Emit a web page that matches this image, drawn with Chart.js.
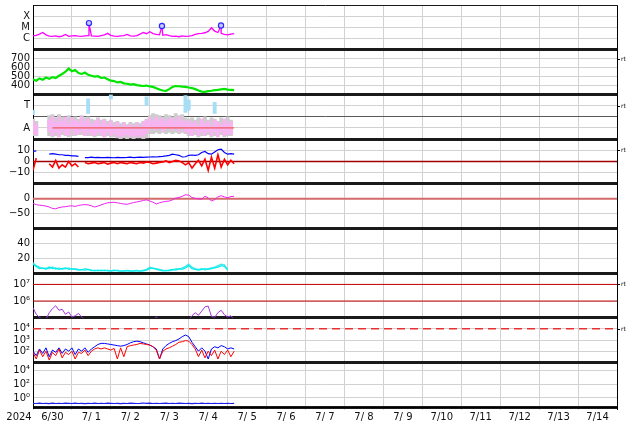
<!DOCTYPE html>
<html>
<head>
<meta charset="utf-8">
<script src="https://cdn.jsdelivr.net/npm/chart.js@4.4.1/dist/chart.umd.min.js"></script>
<style>
  html, body { margin: 0; padding: 0; background: #fff; }
  #wrap { position: relative; width: 634px; height: 424px; }
</style>
</head>
<body>
<div id="wrap"><canvas id="mycanvas"></canvas></div>
<script>
// time axis: hours since 2024-06-30 00:00
var yearLabel = '2024';
var dayCentres = [12, 36, 60, 84, 108, 132, 156, 180, 204, 228, 252, 276, 300, 324, 348];
var dayLabels = ['6/30', '7/ 1', '7/ 2', '7/ 3', '7/ 4', '7/ 5', '7/ 6', '7/ 7', '7/ 8', '7/ 9', '7/10', '7/11', '7/12', '7/13', '7/14'];
var fullSpan = [0, 360];

var hrs = [0,2,4,6,8,10,12,14,16,18,20,22,24,26,28,30,32,34,36,38,40,42,44,46,48,50,52,54,56,58,60,62,64,66,68,70,72,74,76,78,80,82,84,86,88,90,92,94,96,98,100,102,104,106,108,110,112,114,116,118,120,122,124];

// panel 1: x-ray flux (uW/m2)
var xrayHrs = [0,2,4,6,8,10,12,14,16,18,20,22,24,26,28,30,32,34,34.5,36,38,40,42,44,46,48,50,52,54,56,58,60,62,64,66,68,70,72,74,76,78,79.5,80,82,84,86,88,90,92,94,96,98,100,102,104,106,108,110,112,114,115.9,116,118,120,122,124];
var xrayFlux = [1.8,2.0,2.6,3.6,2.2,1.7,1.6,1.8,1.5,1.7,2.4,1.6,1.8,1.9,1.7,1.6,1.8,1.9,25,
  1.8,1.7,1.6,1.9,2.2,3.0,2.0,1.7,1.6,1.8,1.9,2.4,1.8,1.7,1.9,2.6,3.6,2.8,4.2,2.9,2.4,2.2,14,
  2.0,2.3,1.9,1.6,1.7,1.5,1.8,1.6,1.7,1.9,2.4,2.8,3.0,3.4,4.5,9.5,4.8,3.6,15,
  3.0,2.4,2.2,2.6,2.9];
var flareHrs = [34.5, 79.5, 115.9];
var flarePeak = [25, 14, 15];
var xrayTicks = [1, 10, 100];
var xrayLabels = ['C', 'M', 'X'];

// panel 2: solar wind speed
var speed = [470,455,480,465,490,475,495,485,510,530,555,590,560,575,540,530,545,520,510,500,
  505,485,490,470,455,450,435,440,425,420,410,415,405,400,395,400,390,385,370,355,
  345,340,360,385,395,392,388,385,378,372,360,345,332,330,338,342,348,352,358,362,355,352,348];
var speedTicks = [400, 500, 600, 700];
var speedLabels = ['400', '500', '600', '700'];

// panel 3: activity band
var pinkLo = [0.5,0.4,null,null,null,0.7,0.3,0.6,0.2,0.7,0.4,0.3,0.8,0.4,0.5,0.7,0.3,0.6,0.4,0.3,
  0.6,0.4,0.2,0.6,0.3,0.5,0.2,0.3,0.2,0.4,0.2,0.3,0.2,0.35,0.2,0.5,0.9,1.1,0.8,1.0,
  0.7,0.9,1.1,0.8,1.0,0.7,1.0,0.6,0.5,0.3,0.7,0.3,0.6,0.4,0.7,0.3,0.6,0.2,0.7,0.3,0.5,0.4,null];
var pinkHi = [1.6,1.3,null,null,null,1.7,2.0,1.5,1.9,1.6,2.0,1.4,1.9,1.7,1.5,2.0,1.6,1.8,1.3,1.6,
  1.8,1.4,1.7,1.3,1.6,1.2,1.5,1.0,1.4,1.2,1.3,1.0,1.4,1.1,1.5,1.7,1.9,1.6,2.0,1.7,
  1.9,1.6,1.8,1.9,1.6,2.0,1.7,1.5,1.7,1.4,1.6,1.3,1.8,1.4,1.6,1.2,1.7,1.5,1.3,1.8,1.4,1.6,null];
var greyLo = [0.3,0.3,null,null,null,0.3,0.2,0.3,0.3,0.4,0.3,0.2,0.3,0.3,0.4,0.4,0.3,0.3,0.3,0.2,
  0.3,0.3,0.2,0.3,0.2,0.2,0.1,0.05,0.1,0.05,0.1,0.05,0.1,0.1,0.05,0.1,0.5,0.5,0.6,0.5,
  0.6,0.5,0.6,0.5,0.6,0.5,0.6,0.5,0.3,0.3,0.4,0.2,0.3,0.3,0.4,0.2,0.3,0.3,0.4,0.2,0.3,0.3,null];
var greyHi = [1.8,1.6,null,null,null,2.1,2.2,1.9,2.2,2.0,1.9,2.1,1.9,2.0,1.8,2.1,1.9,2.0,1.8,1.7,
  1.9,1.7,1.8,1.6,1.7,1.5,1.6,1.4,1.5,1.3,1.5,1.4,1.5,1.4,1.6,1.8,2.1,2.3,2.2,2.1,
  2.0,2.2,2.1,2.0,2.3,2.1,2.2,1.9,1.8,1.9,1.7,1.9,1.8,2.0,1.7,1.9,1.8,1.6,1.9,1.8,2.0,1.7,null];
var tHrs = [0, 34, 48, 70, 94, 96, 112];
var tLo = [2.2, 2.3, 3.6, 3.0, 2.4, 2.6, 2.3];
var tHi = [2.6, 3.6, 4.0, 3.8, 3.9, 3.5, 3.3];
var aLineHrs = [12, 124];
var aLevel = [1, 1];
var bandTicks = [1, 2, 3];
var bandLabels = ['A', '', 'T'];

// panel 4: magnetic field
var bt = [9,9.5,null,null,null,6.5,7,6.5,6,6,5.5,5.5,5,5,4.5,null,3.5,3.5,3.8,3.5,
  3.6,3.4,3.5,3.7,3.5,3.3,3.6,3.4,3.5,3.6,3.8,3.5,3.7,3.9,3.6,3.8,4,4.2,4,4.4,
  4.6,5,5.5,6.5,6,5.5,4,4.2,5.5,5.8,5.5,6,8,9,7,6.5,8.5,10.5,11,8,6.5,7,6.5];
var bz = [-8,3,null,null,null,-2,-5,1,-6,-3,-5,0,-4,-2,-5,null,-1,-2,-1.5,-1,
  -2,-1.5,-1,-2.5,-1.5,-1,-2,-1,-1.5,-2,-1,-1.5,-2,-1,-1.5,-0.5,-1,-2,-1.5,-1,
  -0.5,0.5,-1,0,1,0.5,-1,-3,-1,-6,-2,1,-4,2,-8,4,-6,6,-5,2,-3,1,-2];
var fieldTicks = [-10, 0, 10];
var fieldLabels = ['\u221210', '0', '10'];

// panel 5: Dst
var dst = [-16,-20,-22,-23,-25,-28,-33,-34,-30,-28,-27,-25,-24,-26,-23,-21,-20,-21,-24,-28,
  -25,-21,-17,-14,-13,-12,-14,-16,-18,-19,-16,-13,-11,-9,-6,-4,-8,-12,-18,-14,
  -11,-9,-8,-4,2,4,8,13,12,4,1,-1,-2,8,3,-8,-3,6,10,6,3,7,8];
var dstTicks = [-50, 0];
var dstLabels = ['\u221250', '0'];

// panel 6: density
var dens1 = [12,9,6,7,5,8,6,7,5,6,7,5,6,5,4,5,4,5,4,3,
  4,3,4,3,3,4,3,2.5,3,3,2.5,3,3,2.5,3,4,6,7,5,4,
  3,3,4,5,4,6,5,7,10,6,5,4,5,6,5,6,7,8,10,9,4,null,null];
var dens2 = [14,10,8,6,7,6,8,5,7,5,6,7,5,6,5,4,6,5,3,4,
  3,4,3,4,2.5,3,4,3,2.5,3.5,3,2.5,3.5,3,4,5,8,6,6,5,
  4,3.5,3,4,6,5,7,9,12,8,6,5,6,4,6,7,8,10,12,11,5,null,null];
var densTicks = [20, 40];
var densLabels = ['20', '40'];

// panel 7: electron flux
var electron = [4.0e5,1.6e5,1.05e5,8e4,8e4,2.0e5,3.5e5,5.2e5,2.8e5,3.2e5,1.6e5,2.2e5,1.1e5,1.3e5,1.8e5,1.1e5,8e4,8e4,8e4,8e4,
  8e4,8e4,8e4,8e4,8e4,8e4,8e4,8e4,8e4,8e4,8e4,8e4,8e4,8e4,8e4,8e4,8e4,8e4,1.1e5,8e4,
  8e4,8e4,8e4,8e4,8e4,8e4,8e4,8e4,8e4,1.3e5,2.0e5,1.4e5,2.5e5,4.5e5,5.0e5,1.2e5,1.05e5,2.0e5,2.8e5,1.5e5,1.1e5,1.3e5,8e4];
var electronTicks = [1e6, 1e7];
var electronLabels = ['10\u2076', '10\u2077'];
var electronAlerts = [1e6, 1e7];

// panel 8: proton flux
var protonRed = [79,20,126,32,100,16,79,40,158,25,79,50,100,20,79,63,126,40,100,158,
  200,158,200,158,126,178,20,200,32,251,316,355,398,501,447,398,355,251,126,20,
  100,158,200,282,398,631,708,891,794,398,158,32,126,25,100,40,126,20,100,50,126,32,100];
var protonBlue = [100,40,158,63,200,32,126,79,200,63,158,100,200,50,158,100,200,79,158,251,
  398,501,501,447,398,355,316,282,316,398,562,708,794,708,562,447,355,251,158,20,
  158,316,501,708,891,1259,1995,2818,1995,631,251,100,200,100,20,158,251,200,316,251,158,200,158];
var protonTicks = [100, 1000, 10000];
var protonLabels = ['10\u00b2', '10\u00b3', '10\u2074'];
var protonAlert = 10000;

// panel 9: high energy flux
var highEnergy = [0.17,0.16,0.18,0.16,0.17,0.15,0.18,0.16,0.17,0.16,0.18,0.17,0.16,0.18,0.16,0.17,0.15,0.17,0.16,0.18,
  0.16,0.17,0.16,0.18,0.17,0.16,0.17,0.15,0.17,0.16,0.18,0.17,0.16,0.17,0.19,0.17,0.18,0.16,0.17,0.16,
  0.17,0.18,0.16,0.17,0.16,0.18,0.17,0.16,0.17,0.15,0.17,0.16,0.18,0.16,0.17,0.16,0.17,0.16,0.17,0.16,0.17,0.16,0.17];
var highTicks = [1, 100, 10000];
var highLabels = ['10\u2070', '10\u00b2', '10\u2074'];

// little "rt" marks on the right edge
var rtAxes = ['y2', 'y3', 'y4', 'y7', 'y8'];
var rtValues = [700, 3, 10, 1e7, 1e4];

function pts(xs, ys) {
  return xs.map(function(x, i) { return {x: x, y: ys[i]}; });
}
function spans(xs, lo, hi) {
  var out = [];
  xs.forEach(function(x, i) {
    if (lo[i] !== null) out.push({x: x, y: [lo[i], hi[i]]});
  });
  return out;
}
function flat(v) { return [v, v]; }

function panelAxis(order, type, min, max, tickVals, tickLabels, darkVals) {
  var last = tickVals.length + 1;
  return {
    type: type, min: min, max: max,
    stack: 'panels', stackWeight: 1, weight: 10 - order,
    afterBuildTicks: function(scale) {
      scale.ticks = [min].concat(tickVals, [max]).map(function(v) { return {value: v}; });
    },
    afterFit: function(scale) {
      scale.width = 33;
      scale.paddingTop = 0;
      scale.paddingBottom = 0;
    },
    border: {color: '#000', width: 1},
    grid: {
      drawTicks: false,
      color: function(c) {
        if (c.index === 0 || c.index === last) return '#1a1a1a';
        if (darkVals && c.tick && darkVals.indexOf(c.tick.value) >= 0) return '#5a5a5a';
        return '#d2d2d2';
      },
      lineWidth: function(c) {
        if (c.index === 0) return 3;
        if (c.index === last) return order === 1 ? 1 : 3;
        return 1;
      }
    },
    ticks: {
      autoSkip: false, padding: 3, color: '#111', font: {size: 10},
      callback: function(v, i) { return (i === 0 || i === last) ? '' : tickLabels[i - 1]; }
    }
  };
}

var extraLabels = {
  id: 'extraLabels',
  afterDraw: function(chart) {
    var ctx = chart.ctx, area = chart.chartArea;
    ctx.save();
    ctx.fillStyle = '#111';
    ctx.font = '10px "DejaVu Sans"';
    ctx.textAlign = 'center';
    ctx.textBaseline = 'middle';
    ctx.fillText(yearLabel, 19, chart.scales.x.top + 10);
    ctx.font = '6px "DejaVu Sans"';
    ctx.textAlign = 'left';
    ctx.strokeStyle = '#000';
    ctx.lineWidth = 1;
    rtAxes.forEach(function(id, k) {
      var y = Math.round(chart.scales[id].getPixelForValue(rtValues[k])) + 0.5;
      ctx.beginPath();
      ctx.moveTo(area.right, y);
      ctx.lineTo(area.right + 3, y);
      ctx.stroke();
      ctx.fillText('rt', area.right + 4, y);
    });
    ctx.restore();
  }
};

Chart.defaults.font.family = '"DejaVu Sans", sans-serif';
Chart.defaults.font.size = 10;
Chart.defaults.color = '#111';
Chart.defaults.elements.point.radius = 0;
Chart.defaults.elements.line.tension = 0;

var ctx = document.getElementById('mycanvas');
var panelChart = new Chart(ctx, {
  type: 'line',
  data: {
    datasets: [
      // panel 1
      {label: 'flares', data: pts(flareHrs, flarePeak), yAxisID: 'y1', showLine: false,
        pointRadius: 2.6, pointBorderWidth: 1.2, pointBorderColor: '#2a2aff', pointBackgroundColor: '#c8c8ff'},
      {label: 'xray', data: pts(xrayHrs, xrayFlux), yAxisID: 'y1', borderColor: '#ff00ff', borderWidth: 1.3},
      // panel 2
      {label: 'speed', data: pts(hrs, speed), yAxisID: 'y2', borderColor: '#00e600', borderWidth: 2.2},
      // panel 3
      {label: 'A', data: pts(aLineHrs, aLevel), yAxisID: 'y3', borderColor: '#f25a5a', borderWidth: 1.2},
      {type: 'bar', label: 'T', data: spans(tHrs, tLo, tHi), yAxisID: 'y3', backgroundColor: '#a6def6',
        grouped: false, barPercentage: 1, categoryPercentage: 1},
      {type: 'bar', label: 'pink', data: spans(hrs, pinkLo, pinkHi), yAxisID: 'y3', backgroundColor: '#f6b4f0',
        grouped: false, barPercentage: 1, categoryPercentage: 1},
      {type: 'bar', label: 'grey', data: spans(hrs, greyLo, greyHi), yAxisID: 'y3', backgroundColor: '#cdcdcd',
        grouped: false, barPercentage: 1, categoryPercentage: 1},
      // panel 4
      {label: 'Bz', data: pts(hrs, bz), yAxisID: 'y4', borderColor: '#ff0000', borderWidth: 1.6},
      {label: 'Bt', data: pts(hrs, bt), yAxisID: 'y4', borderColor: '#0000ff', borderWidth: 1.2},
      {label: 'zero4', data: pts(fullSpan, flat(0)), yAxisID: 'y4', borderColor: '#a00000', borderWidth: 1.5},
      // panel 5
      {label: 'dst', data: pts(hrs, dst), yAxisID: 'y5', borderColor: '#ee22ee', borderWidth: 1},
      {label: 'zero5', data: pts(fullSpan, flat(0)), yAxisID: 'y5', borderColor: '#d46a6a', borderWidth: 2},
      // panel 6
      {label: 'dens1', data: pts(hrs, dens1), yAxisID: 'y6', borderColor: '#00eeee', borderWidth: 1.3},
      {label: 'dens2', data: pts(hrs, dens2), yAxisID: 'y6', borderColor: '#4fe6e6', borderWidth: 1.3},
      // panel 7
      {label: 'electron', data: pts(hrs, electron), yAxisID: 'y7', borderColor: '#a535e0', borderWidth: 1},
      {label: 'e6', data: pts(fullSpan, flat(electronAlerts[0])), yAxisID: 'y7', borderColor: '#c40000', borderWidth: 1},
      {label: 'e7', data: pts(fullSpan, flat(electronAlerts[1])), yAxisID: 'y7', borderColor: '#c40000', borderWidth: 1},
      // panel 8
      {label: 'pRed', data: pts(hrs, protonRed), yAxisID: 'y8', borderColor: '#ff0000', borderWidth: 1},
      {label: 'pBlue', data: pts(hrs, protonBlue), yAxisID: 'y8', borderColor: '#0000ff', borderWidth: 1},
      {label: 'pAlert', data: pts(fullSpan, flat(protonAlert)), yAxisID: 'y8', borderColor: '#e83232',
        borderWidth: 1.5, borderDash: [8, 5]},
      // panel 9
      {label: 'high', data: pts(hrs, highEnergy), yAxisID: 'y9', borderColor: '#2020ee', borderWidth: 1.2}
    ]
  },
  options: {
    responsive: true,
    maintainAspectRatio: false,
    animation: false,
    events: [],
    layout: {padding: {top: 2, right: 17, bottom: 0, left: 0}},
    plugins: {legend: {display: false}, tooltip: {enabled: false}},
    scales: {
      x: {
        type: 'linear', min: 0, max: 360, offset: false,
        afterBuildTicks: function(scale) {
          scale.ticks = dayCentres.map(function(v) { return {value: v}; });
        },
        afterFit: function(scale) {
          scale.height = 17;
          scale.paddingLeft = 0;
          scale.paddingRight = 0;
        },
        border: {color: '#000', width: 1},
        grid: {
          offset: true, z: -2, tickLength: 3,
          color: function(c) { return c.tick ? '#d2d2d2' : '#000'; }
        },
        ticks: {
          autoSkip: false, maxRotation: 0, padding: 1, color: '#111', font: {size: 10},
          callback: function(v, i) { return dayLabels[i]; }
        }
      },
      y1: panelAxis(1, 'logarithmic', 0.1, 1000, xrayTicks, xrayLabels),
      y2: panelAxis(2, 'linear', 300, 800, speedTicks, speedLabels),
      y3: panelAxis(3, 'linear', 0, 4, bandTicks, bandLabels, [2]),
      y4: panelAxis(4, 'linear', -20, 20, fieldTicks, fieldLabels),
      y5: panelAxis(5, 'linear', -100, 50, dstTicks, dstLabels),
      y6: panelAxis(6, 'linear', 0, 60, densTicks, densLabels),
      y7: panelAxis(7, 'logarithmic', 1e5, 4.8e7, electronTicks, electronLabels),
      y8: panelAxis(8, 'logarithmic', 10, 1e5, protonTicks, protonLabels),
      y9: panelAxis(9, 'logarithmic', 0.05, 1.4e5, highTicks, highLabels)
    }
  },
  plugins: [extraLabels]
});
</script>
</body>
</html>
